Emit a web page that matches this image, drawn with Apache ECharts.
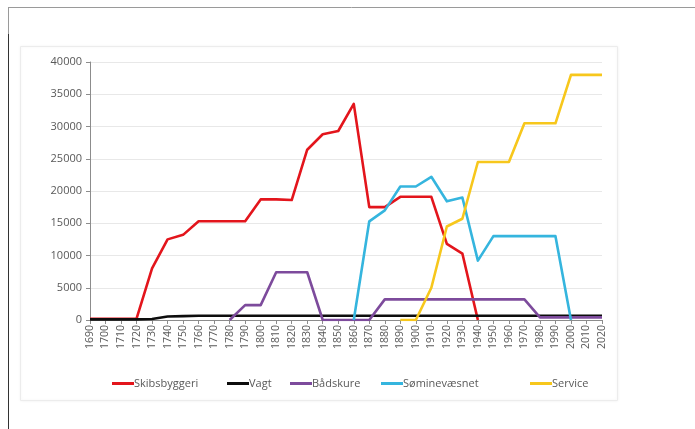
<!DOCTYPE html>
<html>
<head>
<meta charset="utf-8">
<script src="https://cdn.jsdelivr.net/npm/echarts@6/dist/echarts.min.js"></script>
<style>
  html, body { margin: 0; padding: 0; background: #fff; }
  #chart { width: 695px; height: 429px; }
</style>
</head>
<body>
<div id="chart"></div>
<script>
// Decades on the x axis
const years = [];
for (let y = 1690; y <= 2020; y += 10) years.push(String(y));

// Employment per sector, one value per decade (null = not present)
const skibsbyggeri = [200, 200, 200, 200, 8000, 12500, 13200, 15300, 15300, 15300, 15300, 18700, 18700, 18600, 26400, 28800, 29300, 33500, 17500, 17500, 19100, 19100, 19100, 11800, 10300, 0, null, null, null, null, null, null, null, null];
const vagt = [100, 100, 100, 100, 150, 550, 600, 650, 650, 650, 650, 650, 650, 650, 650, 650, 650, 650, 650, 650, 650, 650, 650, 650, 650, 650, 650, 650, 650, 650, 650, 650, 650, 650];
const baadskure = [null, null, null, null, null, null, null, null, null, 0, 2300, 2300, 7400, 7400, 7400, 0, 0, 0, 0, 3200, 3200, 3200, 3200, 3200, 3200, 3200, 3200, 3200, 3200, 400, 400, 400, 400, 400];
const soeminevaesnet = [null, null, null, null, null, null, null, null, null, null, null, null, null, null, null, null, null, 0, 15300, 17000, 20700, 20700, 22200, 18400, 19000, 9200, 13000, 13000, 13000, 13000, 13000, 0, null, null];
const service = [null, null, null, null, null, null, null, null, null, null, null, null, null, null, null, null, null, null, null, null, 0, 0, 5000, 14500, 15700, 24500, 24500, 24500, 30500, 30500, 30500, 38000, 38000, 38000];

const seriesNames = ['Skibsbyggeri', 'Vagt', 'Bådskure', 'Søminevæsnet', 'Service'];
const seriesData = [skibsbyggeri, vagt, baadskure, soeminevaesnet, service];
const seriesColors = ['#e3151c', '#0d0d0d', '#7d4b9c', '#35b5de', '#f7c71c'];

// horizontal start of each legend entry
const legendLefts = [107, 222, 285, 376, 525];

const chart = echarts.init(document.getElementById('chart'), null, { renderer: 'canvas' });

const font = '"Open Sans", "Liberation Sans", sans-serif';

chart.setOption({
  animation: false,
  backgroundColor: '#ffffff',
  graphic: [
    // outer page frame
    { type: 'line', shape: { x1: 8, y1: 7.5, x2: 695, y2: 7.5 }, style: { stroke: '#9a9a9a', lineWidth: 1 } },
    { type: 'line', shape: { x1: 8.5, y1: 7, x2: 8.5, y2: 34 }, style: { stroke: '#9a9a9a', lineWidth: 1 } },
    { type: 'line', shape: { x1: 8.5, y1: 34, x2: 8.5, y2: 429 }, style: { stroke: '#333333', lineWidth: 1 } },
    // chart card
    { type: 'rect', z: -10, shape: { x: 20.5, y: 46.5, width: 597, height: 354 },
      style: { fill: '#ffffff', stroke: '#ececec', lineWidth: 1, shadowBlur: 3, shadowColor: 'rgba(0,0,0,0.06)' } }
  ],
  grid: { left: 90, right: 93, top: 62, bottom: 109, containLabel: false },
  legend: seriesNames.map((name, i) => ({
    top: 373,
    left: legendLefts[i],
    itemWidth: 22,
    itemHeight: 3,
    icon: 'rect',
    textStyle: { color: '#595959', fontSize: 11, fontFamily: font, padding: [0, 0, 0, -5] },
    data: [name]
  })),
  xAxis: {
    type: 'category',
    data: years,
    boundaryGap: false,
    axisLine: { lineStyle: { color: '#8c8c8c', width: 1 } },
    axisTick: { show: true, alignWithLabel: true, length: 4, lineStyle: { color: '#8c8c8c' } },
    axisLabel: { rotate: 90, interval: 0, color: '#595959', fontSize: 10.5, fontFamily: font, margin: 5 },
    splitLine: { show: false }
  },
  yAxis: {
    type: 'value',
    min: 0,
    max: 40000,
    interval: 5000,
    axisLine: { show: true, lineStyle: { color: '#8c8c8c', width: 1 } },
    axisTick: { show: true, length: 4, lineStyle: { color: '#8c8c8c' } },
    axisLabel: { color: '#595959', fontSize: 11, fontFamily: font, margin: 8, formatter: (v) => String(v) },
    splitLine: { lineStyle: { color: '#e8e8e8', width: 1 } }
  },
  series: seriesNames.map((name, i) => ({
    name: name,
    type: 'line',
    data: seriesData[i],
    symbol: 'none',
    connectNulls: false,
    lineStyle: { color: seriesColors[i], width: 2.6, join: 'round' },
    itemStyle: { color: seriesColors[i] }
  }))
});
</script>
</body>
</html>
